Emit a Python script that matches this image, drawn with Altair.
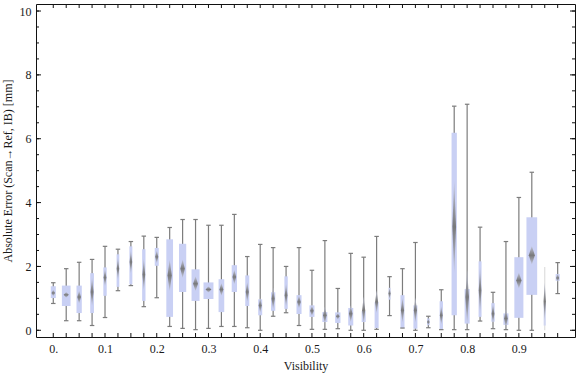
import altair as alt
import pandas as pd

# ---- data ----
visibility = [0.000, 0.025, 0.050, 0.075, 0.100, 0.125, 0.150, 0.175, 0.200, 0.225,
              0.250, 0.275, 0.300, 0.325, 0.350, 0.375, 0.400, 0.425, 0.450, 0.475,
              0.500, 0.525, 0.550, 0.575, 0.600, 0.625, 0.650, 0.675, 0.700, 0.725,
              0.750, 0.775, 0.800, 0.825, 0.850, 0.875, 0.900, 0.925, 0.950, 0.975]
whisker_low = [0.84, 0.30, 0.30, 0.15, 0.40, 1.24, 1.40, 0.74, 1.02, 0.12,
               0.06, 0.02, 0.06, 0.12, 0.12, 0.08, 0.00, 0.44, 0.55, 0.15,
               0.03, 0.03, 0.05, 0.00, 0.00, 0.03, 0.46, 0.07, 0.00, 0.08,
               0.02, 0.02, 0.02, 0.29, 0.05, 0.02, 0.00, 0.00, 0.00, 1.15]
quart_1 = [1.01, 0.76, 0.54, 0.54, 1.08, 1.36, 1.44, 0.92, 2.02, 0.42,
           1.20, 0.92, 0.98, 0.57, 1.20, 0.76, 0.47, 0.61, 0.67, 0.51,
           0.42, 0.26, 0.23, 0.15, 0.26, 0.07, 0.96, 0.07, 0.05, 0.16,
           0.02, 0.47, 0.21, 0.42, 0.27, 0.17, 0.39, 1.11, 0.15, 1.55]
center = [1.17, 1.11, 1.04, 1.20, 1.65, 1.93, 2.14, 1.75, 2.30, 1.72,
          1.93, 1.46, 1.28, 1.28, 1.67, 1.20, 0.78, 0.99, 1.10, 0.89,
          0.61, 0.47, 0.44, 0.52, 0.63, 0.89, 1.15, 0.63, 0.63, 0.26,
          0.47, 3.24, 1.04, 1.25, 0.52, 0.37, 1.56, 2.35, 0.90, 1.64]
quart_3 = [1.38, 1.40, 1.40, 1.79, 1.97, 2.38, 2.63, 2.54, 2.58, 2.85,
           2.71, 1.91, 1.50, 1.60, 2.04, 1.72, 0.97, 1.19, 1.69, 1.10,
           0.78, 0.57, 0.56, 0.70, 0.60, 0.88, 1.33, 1.10, 0.78, 0.37,
           0.91, 6.19, 1.29, 2.16, 0.85, 0.53, 2.29, 3.54, 0.84, 1.76]
whisker_high = [1.49, 1.93, 2.13, 2.22, 2.63, 2.54, 2.78, 2.95, 2.91, 3.22,
                3.47, 3.47, 3.29, 3.29, 3.63, 2.31, 2.69, 2.59, 2.00, 2.59,
                1.88, 2.81, 1.31, 2.41, 2.29, 2.94, 1.68, 1.93, 2.75, 0.44,
                1.27, 7.02, 7.08, 3.23, 1.19, 2.78, 4.16, 4.95, 1.98, 2.12]
# half-height of the central diamond (confidence band around the centre)
center_band = [0.10, 0.09, 0.20, 0.45, 0.27, 0.34, 0.36, 0.50, 0.20, 0.50,
               0.29, 0.23, 0.10, 0.20, 0.23, 0.31, 0.23, 0.34, 0.36, 0.20,
               0.16, 0.26, 0.10, 0.26, 0.42, 0.36, 0.18, 0.39, 0.39, 0.10,
               0.29, 1.46, 0.84, 0.73, 0.31, 0.29, 0.25, 0.29, 0.60, 0.12]
# relative box width (share of the bin spacing, ~ sample size)
box_share = [0.39, 0.67, 0.41, 0.29, 0.26, 0.21, 0.23, 0.26, 0.31, 0.52,
             0.56, 0.62, 0.77, 0.44, 0.41, 0.31, 0.31, 0.33, 0.26, 0.39,
             0.39, 0.39, 0.41, 0.39, 0.31, 0.31, 0.15, 0.31, 0.31, 0.21,
             0.26, 0.41, 0.39, 0.23, 0.26, 0.39, 0.70, 0.83, 0.18, 0.31]

x_label_values = [0.0, 0.1, 0.2, 0.3, 0.4, 0.5, 0.6, 0.7, 0.8, 0.9]
y_label_values = [0, 2, 4, 6, 8, 10]
y_minor_values = [v / 2 for v in range(0, 21)]
x_tick_values = visibility

SPACING = 0.025
FAINT = 0.95

df = pd.DataFrame({
    "vis": visibility, "lo": whisker_low, "q1": quart_1, "mid": center,
    "q3": quart_3, "hi": whisker_high, "band": center_band, "share": box_share,
})
df["xl"] = df["vis"] - df["share"] * SPACING / 2
df["xr"] = df["vis"] + df["share"] * SPACING / 2
df["dw"] = (0.45 * df["share"] + 0.1) * SPACING / 2

rows = []
for i, r in df.iterrows():
    rows.append({"bid": i, "dy": r["mid"] - r["band"], "dx1": r["vis"], "dx2": r["vis"]})
    rows.append({"bid": i, "dy": r["mid"], "dx1": r["vis"] - r["dw"], "dx2": r["vis"] + r["dw"]})
    rows.append({"bid": i, "dy": r["mid"] + r["band"], "dx1": r["vis"], "dx2": r["vis"]})
dia = pd.DataFrame(rows)

W, H = 539, 333
FONT = "Liberation Serif"
TXT = "#1a1a1a"
xscale = alt.Scale(domain=[-0.0334, 1.0085], nice=False, zero=False)
yscale = alt.Scale(domain=[-0.21, 10.22], nice=False, zero=False)
xaxis = alt.Axis(values=x_label_values, ticks=False, domain=False, grid=False,
                 labelExpr="datum.value == 0 ? '0.' : format(datum.value, '.1f')",
                 labelFont=FONT, labelFontSize=12, labelColor=TXT,
                 labelPadding=6, title="Visibility", titleFont=FONT,
                 titleFontSize=12, titleFontWeight="normal", titleColor=TXT,
                 titlePadding=6)
yaxis = alt.Axis(values=y_label_values, ticks=False, domain=False, grid=False,
                 labelFont=FONT, labelFontSize=12, labelColor=TXT,
                 labelPadding=5, title="Absolute Error (Scan\u2192Ref, IB) [mm]",
                 titleFont=FONT, titleFontSize=12, titleFontWeight="normal",
                 titleColor=TXT, titlePadding=5)
GRAY = "#7c7c7c"
BOX = "#c9d0f4"

def X(f):
    return alt.X(f, scale=xscale, axis=xaxis)

def Y(f):
    return alt.Y(f, scale=yscale, axis=yaxis)

base = alt.Chart(df)

whisk = base.mark_rule(color=GRAY, strokeWidth=1.2).encode(
    x=X("vis:Q"), y=Y("lo:Q"), y2="hi:Q",
    opacity=alt.condition(f"datum.vis == {FAINT}", alt.value(0.25), alt.value(1.0)),
)

caps_filter = f"datum.vis != {FAINT}"
cap_lo = base.transform_filter(caps_filter).mark_point(
    shape="stroke", size=20, filled=False, color=GRAY, strokeWidth=1.2, opacity=1
).encode(x=X("vis:Q"), y=Y("lo:Q"))
cap_hi = base.transform_filter(caps_filter).mark_point(
    shape="stroke", size=20, filled=False, color=GRAY, strokeWidth=1.2, opacity=1
).encode(x=X("vis:Q"), y=Y("hi:Q"))

boxes = base.mark_rect(color=BOX).encode(
    x=X("xl:Q"), x2="xr:Q", y=Y("q1:Q"), y2="q3:Q",
    opacity=alt.condition(f"datum.vis == {FAINT}", alt.value(0.7), alt.value(1.0)),
)

grad = alt.Gradient(
    gradient="linear", x1=0, x2=0, y1=0, y2=1,
    stops=[alt.GradientStop(color="#c4c8dc", offset=0),
           alt.GradientStop(color="#747474", offset=0.5),
           alt.GradientStop(color="#c4c8dc", offset=1)],
)
diamonds = alt.Chart(dia).mark_area(orient="horizontal", fill=grad, opacity=0.95).encode(
    y=Y("dy:Q"), x=X("dx1:Q"), x2="dx2:Q", detail="bid:N",
)

# inward frame ticks
ymin_df = pd.DataFrame({"v": y_minor_values})
ymaj_df = pd.DataFrame({"v": y_label_values})
xt_df = pd.DataFrame({"v": x_tick_values})
TK = "#111111"

def yticks(d, x0, x1):
    return alt.Chart(d).mark_rule(color=TK, strokeWidth=1).encode(
        y=Y("v:Q"), x=alt.value(x0), x2=alt.value(x1))

def xticks(y0, y1):
    return alt.Chart(xt_df).mark_rule(color=TK, strokeWidth=1).encode(
        x=X("v:Q"), y=alt.value(y0), y2=alt.value(y1))

ticks = [yticks(ymin_df, 0, 3), yticks(ymaj_df, 0, 5),
         yticks(ymin_df, W, W - 3), yticks(ymaj_df, W, W - 5),
         xticks(0, 4), xticks(H, H - 4)]

chart = alt.layer(whisk, boxes, diamonds, cap_lo, cap_hi, *ticks).properties(
    width=W, height=H,
    autosize=alt.AutoSizeParams(type="none"),
    padding={"left": 36, "top": 4, "right": 1, "bottom": 40},
    background="white",
).configure_view(stroke="#111111", strokeWidth=1)

chart.save("out.html", embed_options={"renderer": "svg", "actions": False})
